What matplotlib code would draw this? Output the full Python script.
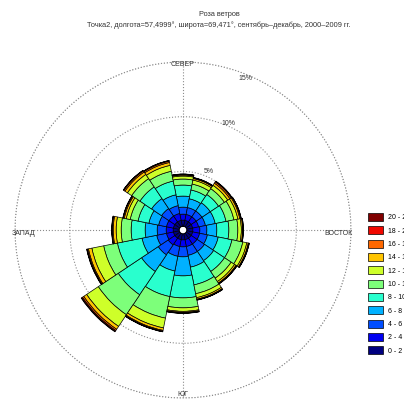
import numpy as np
import matplotlib
matplotlib.use('Agg')
import matplotlib.pyplot as plt

plt.rcParams['font.family'] = ['Liberation Sans', 'DejaVu Sans']

# направления (16 румбов), по часовой от севера
directions = ['N', 'NNE', 'NE', 'ENE', 'E', 'ESE', 'SE', 'SSE',
              'S', 'SSW', 'SW', 'WSW', 'W', 'WNW', 'NW', 'NNW']

# повторяемость (%) по градациям скорости для каждого направления
s0_2 = [0.55, 0.55, 0.55, 0.55, 0.55, 0.55, 0.55, 0.55, 0.55, 0.55, 0.55, 0.55, 0.55, 0.55, 0.55, 0.55]
s2_4 = [0.55, 0.55, 0.55, 0.55, 0.64, 0.64, 0.64, 0.64, 0.64, 0.64, 0.73, 0.64, 0.64, 0.64, 0.64, 0.64]
s4_6 = [0.64, 0.64, 0.64, 0.64, 0.64, 0.73, 0.82, 0.82, 0.91, 0.91, 1.10, 0.91, 0.82, 0.73, 0.82, 0.73]
s6_8 = [1.01, 0.82, 0.91, 0.91, 0.91, 1.01, 1.01, 1.10, 1.74, 1.37, 1.83, 1.37, 1.10, 0.91, 1.10, 1.01]
s8_10 = [1.01, 0.82, 0.91, 1.01, 1.10, 1.28, 1.19, 1.65, 2.01, 2.38, 2.56, 2.29, 1.28, 1.01, 1.28, 1.28]
s10_12 = [0.55, 0.55, 0.64, 0.73, 0.82, 1.01, 0.73, 0.82, 0.91, 2.01, 2.19, 1.28, 0.91, 0.73, 0.91, 0.91]
s12_14 = [0.27, 0.37, 0.37, 0.37, 0.32, 0.37, 0.37, 0.37, 0.32, 0.91, 1.28, 1.10, 0.46, 0.37, 0.46, 0.55]
s14_16 = [0.09, 0.14, 0.23, 0.18, 0.12, 0.14, 0.16, 0.14, 0.09, 0.23, 0.32, 0.32, 0.27, 0.18, 0.27, 0.27]
s16_18 = [0.05, 0.05, 0.14, 0.09, 0.04, 0.05, 0.06, 0.05, 0.05, 0.08, 0.14, 0.09, 0.09, 0.09, 0.12, 0.12]
s18_20 = [0.03, 0.03, 0.06, 0.03, 0.02, 0.03, 0.03, 0.03, 0.03, 0.04, 0.09, 0.05, 0.03, 0.03, 0.05, 0.05]
s20_22 = [0.02, 0.02, 0.03, 0.02, 0.01, 0.02, 0.02, 0.02, 0.02, 0.02, 0.05, 0.03, 0.02, 0.02, 0.02, 0.02]

speed_bins = [s0_2, s2_4, s4_6, s6_8, s8_10, s10_12, s12_14, s14_16, s16_18, s18_20, s20_22]
bin_labels = ['0 - 2', '2 - 4', '4 - 6', '6 - 8', '8 - 10', '10 - 12',
              '12 - 14', '14 - 16', '16 - 18', '18 - 20', '20 - 22']

pct_ticks = [5, 10, 15]

fig = plt.figure(figsize=(4.04, 4.01), dpi=100)
ax = fig.add_axes([0.037, 0.0074, 0.832, 0.838], projection='polar')
ax.set_theta_zero_location('N')
ax.set_theta_direction(-1)
ax.set_rorigin(-0.35)
ax.set_ylim(0, 15)

theta = np.deg2rad(np.arange(len(directions)) * 360 / len(directions))
width = 2 * np.pi / len(directions)
colors = plt.cm.jet(np.linspace(0, 1, len(speed_bins)))

bottom = np.zeros(len(directions))
handles = []
for vals, c in zip(speed_bins, colors):
    b = ax.bar(theta, vals, width=width, bottom=bottom, color=c,
               edgecolor='black', linewidth=0.5, zorder=3)
    handles.append(b)
    bottom += np.array(vals)

# сетка
ax.spines['polar'].set_visible(False)
ax.set_rgrids(pct_ticks, labels=[])
ax.set_thetagrids([0, 90, 180, 270], labels=[])
ax.grid(True, linestyle=':', color='0.55', linewidth=0.8)
t = np.linspace(0, 2 * np.pi, 300)
ax.plot(t, np.full_like(t, 15), ':', color='0.55', linewidth=0.8, clip_on=False)

pct_r = [5.3, 10.05, 14.35]
for p, r in zip(pct_ticks, pct_r):
    ax.text(np.deg2rad(20), r, '%d%%' % p, fontsize=5, ha='left', va='center', color='0.2')

fig.text(183 / 404, 1 - 64 / 401, 'СЕВЕР', fontsize=5, ha='center', va='center', color='0.2')
fig.text(183 / 404, 1 - 395 / 401, 'ЮГ', fontsize=5, ha='center', va='center', color='0.2')
fig.text(12 / 404, 1 - 234 / 401, 'ЗАПАД', fontsize=5, ha='left', va='center', color='0.2')
fig.text(353 / 404, 1 - 234 / 401, 'ВОСТОК', fontsize=5, ha='right', va='center', color='0.2')

fig.text(219 / 404, 1 - 14 / 401, 'Роза ветров', fontsize=5.3, ha='center', va='center', color='0.2')
fig.text(219 / 404, 1 - 25 / 401,
         'Точка2, долгота=57,4999°, широта=69,471°, сентябрь–декабрь, 2000–2009 гг.',
         fontsize=5.3, ha='center', va='center', color='0.2')

# легенда, как в оригинале обрезана правым краем рисунка
ax.legend(handles[::-1], bin_labels[::-1], loc='upper left',
          bbox_to_anchor=(368 / 404, 1 - 213 / 401), bbox_transform=fig.transFigure,
          frameon=False, fontsize=5, handlelength=2.16, handleheight=1.4,
          labelspacing=0.72, handletextpad=0.65, borderpad=0, borderaxespad=0)

fig.savefig('out.png', dpi=100)
